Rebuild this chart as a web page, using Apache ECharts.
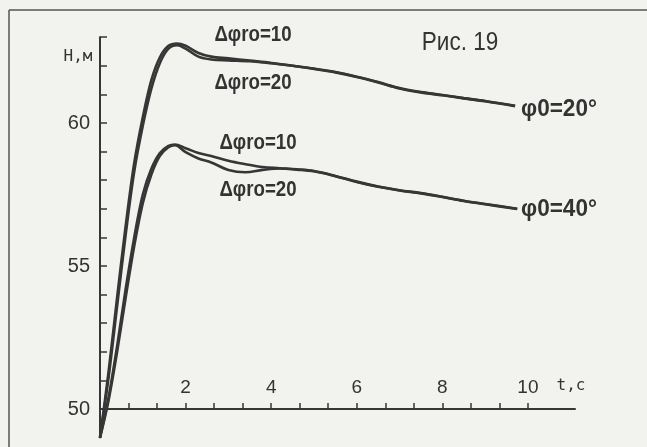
<!DOCTYPE html>
<html><head><meta charset="utf-8">
<script src="https://cdn.jsdelivr.net/npm/echarts@6/dist/echarts.min.js"></script>
<style>html,body{margin:0;padding:0;background:#f2f2ef}#c{width:647px;height:447px}</style>
</head><body><div id="c"></div>
<script>
// φ0 = 20°, Δφro = 10
const t20a = [0, 0.2, 0.4, 0.6, 0.8, 1.0, 1.2, 1.4, 1.6, 1.8, 2.0, 2.3, 2.6, 3.0, 3.5, 4.0, 4.5, 5.0, 5.5, 6.0, 6.5, 7.0, 7.5, 8.0, 8.5, 9.0, 9.7];
const h20a = [49.0, 51.3, 53.9, 56.4, 58.6, 60.2, 61.5, 62.3, 62.7, 62.78, 62.7, 62.45, 62.32, 62.26, 62.18, 62.1, 62.0, 61.9, 61.78, 61.62, 61.43, 61.22, 61.08, 60.98, 60.87, 60.77, 60.6];
// φ0 = 20°, Δφro = 20
const t20b = [0, 0.2, 0.4, 0.6, 0.8, 1.0, 1.2, 1.4, 1.6, 1.8, 2.0, 2.3, 2.6, 3.0, 3.5, 4.0, 4.5, 5.0, 5.5, 6.0, 6.5, 7.0, 7.5, 8.0, 8.5, 9.0, 9.7];
const h20b = [49.0, 51.1, 53.6, 56.1, 58.3, 59.9, 61.2, 62.1, 62.6, 62.72, 62.6, 62.32, 62.22, 62.19, 62.16, 62.09, 62.0, 61.89, 61.77, 61.61, 61.42, 61.21, 61.07, 60.97, 60.86, 60.76, 60.59];
// φ0 = 40°, Δφro = 10
const t40a = [0, 0.2, 0.4, 0.6, 0.8, 1.0, 1.2, 1.4, 1.6, 1.75, 2.0, 2.3, 2.6, 3.0, 3.4, 3.8, 4.2, 4.6, 5.0, 5.5, 6.0, 6.5, 7.0, 7.5, 8.0, 8.5, 9.0, 9.75];
const h40a = [49.0, 50.4, 52.2, 54.2, 56.0, 57.5, 58.4, 58.95, 59.2, 59.25, 59.12, 58.95, 58.85, 58.68, 58.56, 58.46, 58.42, 58.38, 58.32, 58.15, 57.95, 57.78, 57.65, 57.55, 57.42, 57.28, 57.17, 57.0];
// φ0 = 40°, Δφro = 20
const t40b = [0, 0.2, 0.4, 0.6, 0.8, 1.0, 1.2, 1.4, 1.6, 1.75, 2.0, 2.3, 2.6, 3.0, 3.4, 3.8, 4.2, 4.6, 5.0, 5.5, 6.0, 6.5, 7.0, 7.5, 8.0, 8.5, 9.0, 9.75];
const h40b = [49.0, 50.3, 52.0, 53.9, 55.7, 57.2, 58.2, 58.85, 59.15, 59.22, 58.98, 58.76, 58.62, 58.36, 58.28, 58.36, 58.41, 58.37, 58.31, 58.14, 57.94, 57.77, 57.64, 57.54, 57.41, 57.27, 57.16, 56.99];

const yTicks = [50, 51, 52, 53, 54, 55, 56, 57, 58, 59, 60, 61, 62, 63];
const yLabels = [50, 55, 60];
const xTicks = [0.667, 1.333, 2, 2.667, 3.333, 4, 4.667, 5.333, 6, 6.667, 7.333, 8, 8.667, 9.333, 10];
const xLabels = [2, 4, 6, 8, 10];

const zip = (a, b) => a.map((v, i) => [v, b[i]]);
const ink = '#363636';
const sans = '"Liberation Sans",Arial,sans-serif';
const mono = '"DejaVu Sans Mono","Liberation Mono",monospace';

const chart = echarts.init(document.getElementById('c'), null, {renderer: 'canvas'});
const lineStyle = {color: ink, width: 2.6};
const mk = (d) => ({type: 'line', xAxisIndex: 0, yAxisIndex: 0, data: d, showSymbol: false, smooth: 0.35, lineStyle, animation: false});
const txt = (s, x, y, font, sx) => ({type: 'text', x, y, scaleX: sx, scaleY: 1,
  style: {text: s, font, fill: '#333', align: 'center', verticalAlign: 'middle', textAlign: 'center', textVerticalAlign: 'middle'}});

chart.setOption({
  backgroundColor: '#f2f2ef',
  animation: false,
  grid: [
    {left: 100, right: 72, top: 37.2, bottom: 9.4},
    {left: 100, right: 72, top: 37.2, bottom: 38}
  ],
  xAxis: [
    {gridIndex: 0, type: 'value', min: 0, max: 11.1, show: false},
    {gridIndex: 1, type: 'value', min: 0, max: 11.1,
     axisLine: {show: true, lineStyle: {color: ink, width: 2}},
     axisTick: {show: true, inside: true, length: 6, customValues: xTicks, lineStyle: {color: ink, width: 1.5}},
     splitLine: {show: false},
     axisLabel: {show: true, inside: true, margin: 12, customValues: xLabels, color: '#333', fontSize: 19, fontFamily: sans}}
  ],
  yAxis: [
    {gridIndex: 0, type: 'value', min: 49, max: 63,
     axisLine: {show: true, lineStyle: {color: ink, width: 2}},
     axisTick: {show: true, inside: true, length: 7, customValues: yTicks, lineStyle: {color: ink, width: 1.5}},
     splitLine: {show: false},
     axisLabel: {show: true, margin: 10, customValues: yLabels, color: '#333', fontSize: 20, fontFamily: sans}},
    {gridIndex: 1, type: 'value', min: 50, max: 63, show: false}
  ],
  series: [mk(zip(t20a, h20a)), mk(zip(t20b, h20b)), mk(zip(t40a, h40a)), mk(zip(t40b, h40b))],
  graphic: [
    {type: 'line', shape: {x1: 9, y1: 10, x2: 647, y2: 10}, style: {stroke: '#555', lineWidth: 1.5}},
    {type: 'line', shape: {x1: 9, y1: 10, x2: 9, y2: 447}, style: {stroke: '#555', lineWidth: 1.5}},
    txt('Рис. 19', 460, 43, '25px ' + sans, 0.9),
    txt('H,м', 78, 57, '16px ' + mono, 1),
    txt('t,c', 571, 386, '16px ' + mono, 1),
    txt('Δφro=10', 253, 35, 'bold 22px ' + sans, 0.85),
    txt('Δφro=20', 253, 83, 'bold 22px ' + sans, 0.85),
    txt('Δφro=10', 258, 143, 'bold 22px ' + sans, 0.85),
    txt('Δφro=20', 258, 190, 'bold 22px ' + sans, 0.85),
    txt('φ0=20°', 559, 110, 'bold 23px ' + sans, 0.98),
    txt('φ0=40°', 559, 210, 'bold 23px ' + sans, 0.98)
  ]
});
</script></body></html>
